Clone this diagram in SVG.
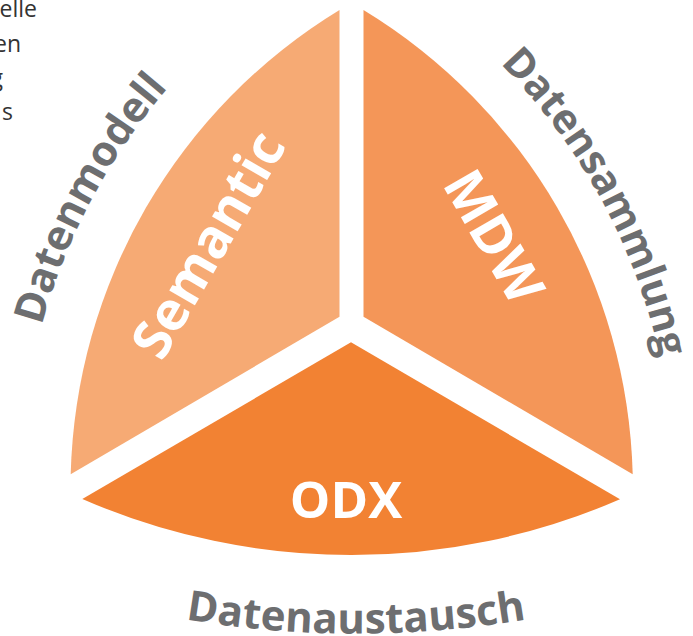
<svg xmlns="http://www.w3.org/2000/svg" width="693" height="636" viewBox="0 0 693 636">
  <style>
    .seg-label { font-family: "Open Sans", "Liberation Sans", sans-serif; font-weight: 700; fill: #ffffff; }
    .outer { font-family: "Open Sans", "Liberation Sans", sans-serif; font-weight: 700; fill: #6d6e70; font-size: 42px; }
    .frag { font-family: "Open Sans", "Liberation Sans", sans-serif; font-size: 23px; fill: #333333; }
  </style>
  <defs>
    <path id="arc-left" d="M 25.9,401.8 A 612 612 0 0 1 222.5,32.2"/>
    <path id="arc-right" d="M 470.5,35.4 A 603 603 0 0 1 667.4,397.9"/>
    <path id="arc-bottom" d="M 177.5,618 A 1028 1028 0 0 0 534.5,618"/>
  </defs>
  <rect width="693" height="636" fill="#ffffff"/>

  <g id="fragment-text">
    <text class="frag" x="37" y="17" text-anchor="end">elle</text>
    <text class="frag" x="21" y="52" text-anchor="end">en</text>
    <text class="frag" x="3" y="86" text-anchor="end">g</text>
    <text class="frag" x="13" y="120" text-anchor="end">s</text>
  </g>

  <g id="semantic">
    <path d="M 339.5,10 L 339.5,316.7 L 70.7,474.3 A 560 560 0 0 1 339.5,10 Z" fill="#f6aa74"/>
    <text class="seg-label" font-size="54" text-anchor="middle" transform="translate(209,245) rotate(-60)" y="18">Semantic</text>
  </g>

  <g id="mdw">
    <path d="M 363.5,10 A 560 560 0 0 1 632.7,474.3 L 363.5,316.7 Z" fill="#f49658"/>
    <text class="seg-label" font-size="54" text-anchor="middle" transform="translate(493,237) rotate(60)" y="18">MDW</text>
  </g>

  <g id="odx">
    <path d="M 351,342.3 L 620,499.3 A 675 675 0 0 1 82.3,499 Z" fill="#f28233"/>
    <text class="seg-label" font-size="51" text-anchor="middle" x="346" y="518">ODX</text>
  </g>

  <g id="label-datenmodell">
    <text class="outer"><textPath href="#arc-left" startOffset="50%" text-anchor="middle">Datenmodell</textPath></text>
  </g>
  <g id="label-datensammlung">
    <text class="outer" font-size="41" style="font-size:41px"><textPath href="#arc-right" startOffset="50%" text-anchor="middle">Datensammlung</textPath></text>
  </g>
  <g id="label-datenaustausch">
    <text class="outer"><textPath href="#arc-bottom" startOffset="50%" text-anchor="middle">Datenaustausch</textPath></text>
  </g>

  <g id="connectors"></g>
</svg>
